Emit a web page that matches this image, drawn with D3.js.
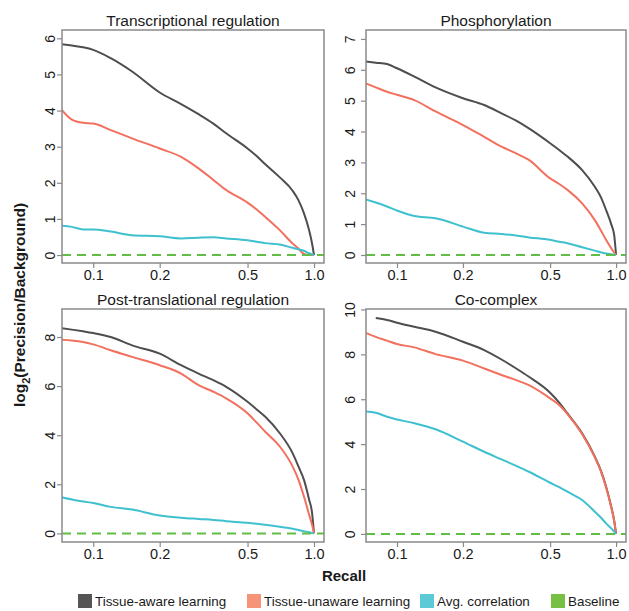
<!DOCTYPE html>
<html><head><meta charset="utf-8">
<script src="https://cdn.jsdelivr.net/npm/d3@7"></script>
<style>body{margin:0;background:#fff;}svg{display:block;font-family:"Liberation Sans",Arial,sans-serif;}</style>
</head><body><svg id="c" width="629" height="611"></svg>
<script>
const recall = [0.072,0.08,0.09,0.1,0.12,0.15,0.2,0.25,0.3,0.35,0.4,0.5,0.55,0.6,0.7,0.8,0.85,0.9,0.95,0.98,1.0];
const xTicks = [0.1,0.2,0.5,1.0];
const xTickLabels = ["0.1","0.2","0.5","1.0"];
const seriesNames = ["Tissue-aware learning","Tissue-unaware learning","Avg. correlation","Baseline"];
const panelTitles = ["Transcriptional regulation","Phosphorylation","Post-translational regulation","Co-complex"];
const yTicks1 = [0,1,2,3,4,5,6];
const yTicks2 = [0,1,2,3,4,5,6,7];
const yTicks3 = [0,2,4,6,8];
const yTicks4 = [0,2,4,6,8,10];
// Transcriptional regulation
const transAware   = [5.84,5.80,5.75,5.68,5.45,5.08,4.50,4.18,3.90,3.64,3.37,2.95,2.74,2.52,2.15,1.78,1.52,1.16,0.69,0.32,0];
const transUnaware = [4.02,3.75,3.66,3.64,3.46,3.23,2.95,2.72,2.40,2.08,1.80,1.45,1.26,1.06,0.69,0.32,0.18,0.03,0.0,0.0,0];
const transCorr    = [0.81,0.78,0.71,0.71,0.65,0.55,0.52,0.46,0.48,0.49,0.46,0.41,0.37,0.33,0.29,0.20,0.16,0.12,0.05,0.02,0];
// Phosphorylation
const phosAware   = [6.27,6.23,6.19,6.05,5.78,5.43,5.08,4.86,4.59,4.35,4.10,3.62,3.40,3.19,2.75,2.21,1.89,1.46,1.00,0.65,0];
const phosUnaware = [5.56,5.43,5.29,5.19,5.02,4.65,4.21,3.83,3.51,3.29,3.08,2.48,2.30,2.11,1.67,1.13,0.81,0.49,0.22,0.08,0];
const phosCorr    = [1.80,1.70,1.57,1.44,1.26,1.19,0.92,0.72,0.68,0.63,0.57,0.49,0.43,0.38,0.25,0.14,0.09,0.05,0.02,0.01,0];
// Post-translational regulation
const postAware   = [8.36,8.30,8.23,8.16,8.00,7.66,7.32,6.85,6.51,6.24,5.97,5.36,5.05,4.76,4.08,3.27,2.73,2.19,1.38,0.84,0];
const postUnaware = [7.89,7.86,7.80,7.70,7.46,7.19,6.85,6.51,6.04,5.77,5.50,4.89,4.51,4.15,3.54,2.73,2.19,1.51,0.77,0.35,0];
const postCorr    = [1.47,1.38,1.30,1.24,1.08,0.97,0.73,0.64,0.59,0.55,0.50,0.43,0.39,0.35,0.27,0.19,0.14,0.09,0.05,0.02,0];
// Co-complex
const coAware   = [null,9.62,9.53,9.41,9.23,9.01,8.56,8.19,7.77,7.37,7.00,6.29,5.85,5.37,4.48,3.44,2.85,2.11,1.22,0.60,0];
const coUnaware = [8.96,8.78,8.61,8.46,8.31,8.01,7.72,7.37,7.08,6.85,6.63,6.04,5.74,5.34,4.45,3.41,2.82,2.08,1.19,0.58,0];
const coCorr    = [5.45,5.40,5.22,5.10,4.93,4.66,4.11,3.66,3.32,3.03,2.77,2.28,2.08,1.88,1.51,0.99,0.74,0.47,0.25,0.10,0];

const lineColors = ["#4e4e4e","#f2705e","#3fc0cf","#62bd45"];
const legendColors = ["#555555","#f59478","#5cc9d6","#76c043"];

const panels = [
  {title:panelTitles[0], series:[transAware,transUnaware,transCorr], ticks:yTicks1, dom:[-0.22,6.23], x0:62, x1:324, y0:30, y1:263, lab:12},
  {title:panelTitles[1], series:[phosAware,phosUnaware,phosCorr], ticks:yTicks2, dom:[-0.26,7.29], x0:366, x1:626, y0:30, y1:263, lab:16},
  {title:panelTitles[2], series:[postAware,postUnaware,postCorr], ticks:yTicks3, dom:[-0.35,9.14], x0:62, x1:324, y0:309, y1:542, lab:12},
  {title:panelTitles[3], series:[coAware,coUnaware,coCorr], ticks:yTicks4, dom:[-0.36,10.02], x0:366, x1:626, y0:309, y1:542, lab:16}
];

const svg = d3.select("#c");
const boxColor = "#8a8a8a", textColor = "#1a1a1a";
const FF = "Liberation Sans, Arial, sans-serif";

panels.forEach((p,i)=>{
  const x = d3.scaleLog().domain([0.0722,1.11]).range([p.x0,p.x1]);
  const y = d3.scaleLinear().domain(p.dom).range([p.y1,p.y0]);
  const g = svg.append("g");
  g.append("clipPath").attr("id","clip"+i).append("rect")
    .attr("x",p.x0).attr("y",p.y0).attr("width",p.x1-p.x0).attr("height",p.y1-p.y0);
  const plot = g.append("g").attr("clip-path","url(#clip"+i+")");
  const line = d3.line().defined(d=>d[1]!==null)
    .x(d=>x(d[0])).y(d=>y(d[1])).curve(d3.curveMonotoneX);
  p.series.forEach((s,k)=>{
    plot.append("path").datum(recall.map((r,j)=>[r,s[j]]))
      .attr("d",line).attr("fill","none").attr("stroke",lineColors[k])
      .attr("stroke-width",2).attr("stroke-linejoin","round");
  });
  plot.append("line").attr("x1",p.x0).attr("x2",p.x1).attr("y1",y(0)).attr("y2",y(0))
    .attr("stroke",lineColors[3]).attr("stroke-width",2).attr("stroke-dasharray","9,6");
  g.append("rect").attr("x",p.x0).attr("y",p.y0).attr("width",p.x1-p.x0).attr("height",p.y1-p.y0)
    .attr("fill","none").attr("stroke",boxColor).attr("stroke-width",1.5);
  // x axis
  const xa = g.append("g").attr("transform",`translate(0,${p.y1})`)
    .call(d3.axisBottom(x).tickValues(xTicks).tickFormat((d,j)=>xTickLabels[j]).tickSize(5).tickPadding(2));
  xa.select(".domain").remove();
  xa.selectAll("line").attr("stroke",boxColor).attr("stroke-width",1.2);
  xa.selectAll("text").attr("font-size",14.5).attr("fill",textColor).attr("font-family",FF);
  // y axis
  const ya = g.append("g").attr("transform",`translate(${p.x0},0)`)
    .call(d3.axisLeft(y).tickValues(p.ticks).tickSize(5).tickFormat(d3.format("d")));
  ya.select(".domain").remove();
  ya.selectAll("line").attr("stroke",boxColor).attr("stroke-width",1.2);
  ya.selectAll("text").attr("font-size",14).attr("fill",textColor)
    .attr("font-family",FF)
    .attr("x",null).attr("dy",null).attr("text-anchor","middle").attr("dominant-baseline","central")
    .attr("transform",`translate(${-p.lab},0) rotate(-90)`);
  g.append("text").attr("x",(p.x0+p.x1)/2).attr("y",p.y0-4).attr("text-anchor","middle")
    .attr("font-size",15.5).attr("fill",textColor).text(p.title);
});

svg.append("text").attr("x",344).attr("y",581).attr("text-anchor","middle")
  .attr("font-size",15).attr("font-weight","bold").attr("fill",textColor).text("Recall");
const yt = svg.append("text").attr("transform","translate(25,305) rotate(-90)").attr("text-anchor","middle")
  .attr("font-size",15.5).attr("font-weight","bold").attr("fill",textColor);
yt.append("tspan").text("log");
yt.append("tspan").attr("font-size",11).attr("dy",5).text("2");
yt.append("tspan").attr("dy",-5).text("(Precision/Background)");

// legend
const legX = [78,247,420,551];
const leg = svg.append("g");
seriesNames.forEach((n,k)=>{
  leg.append("rect").attr("x",legX[k]).attr("y",594).attr("width",14).attr("height",14).attr("fill",legendColors[k]);
  leg.append("text").attr("x",legX[k]+17).attr("y",606).attr("font-size",13.4).attr("fill",textColor).text(n);
});
</script></body></html>
